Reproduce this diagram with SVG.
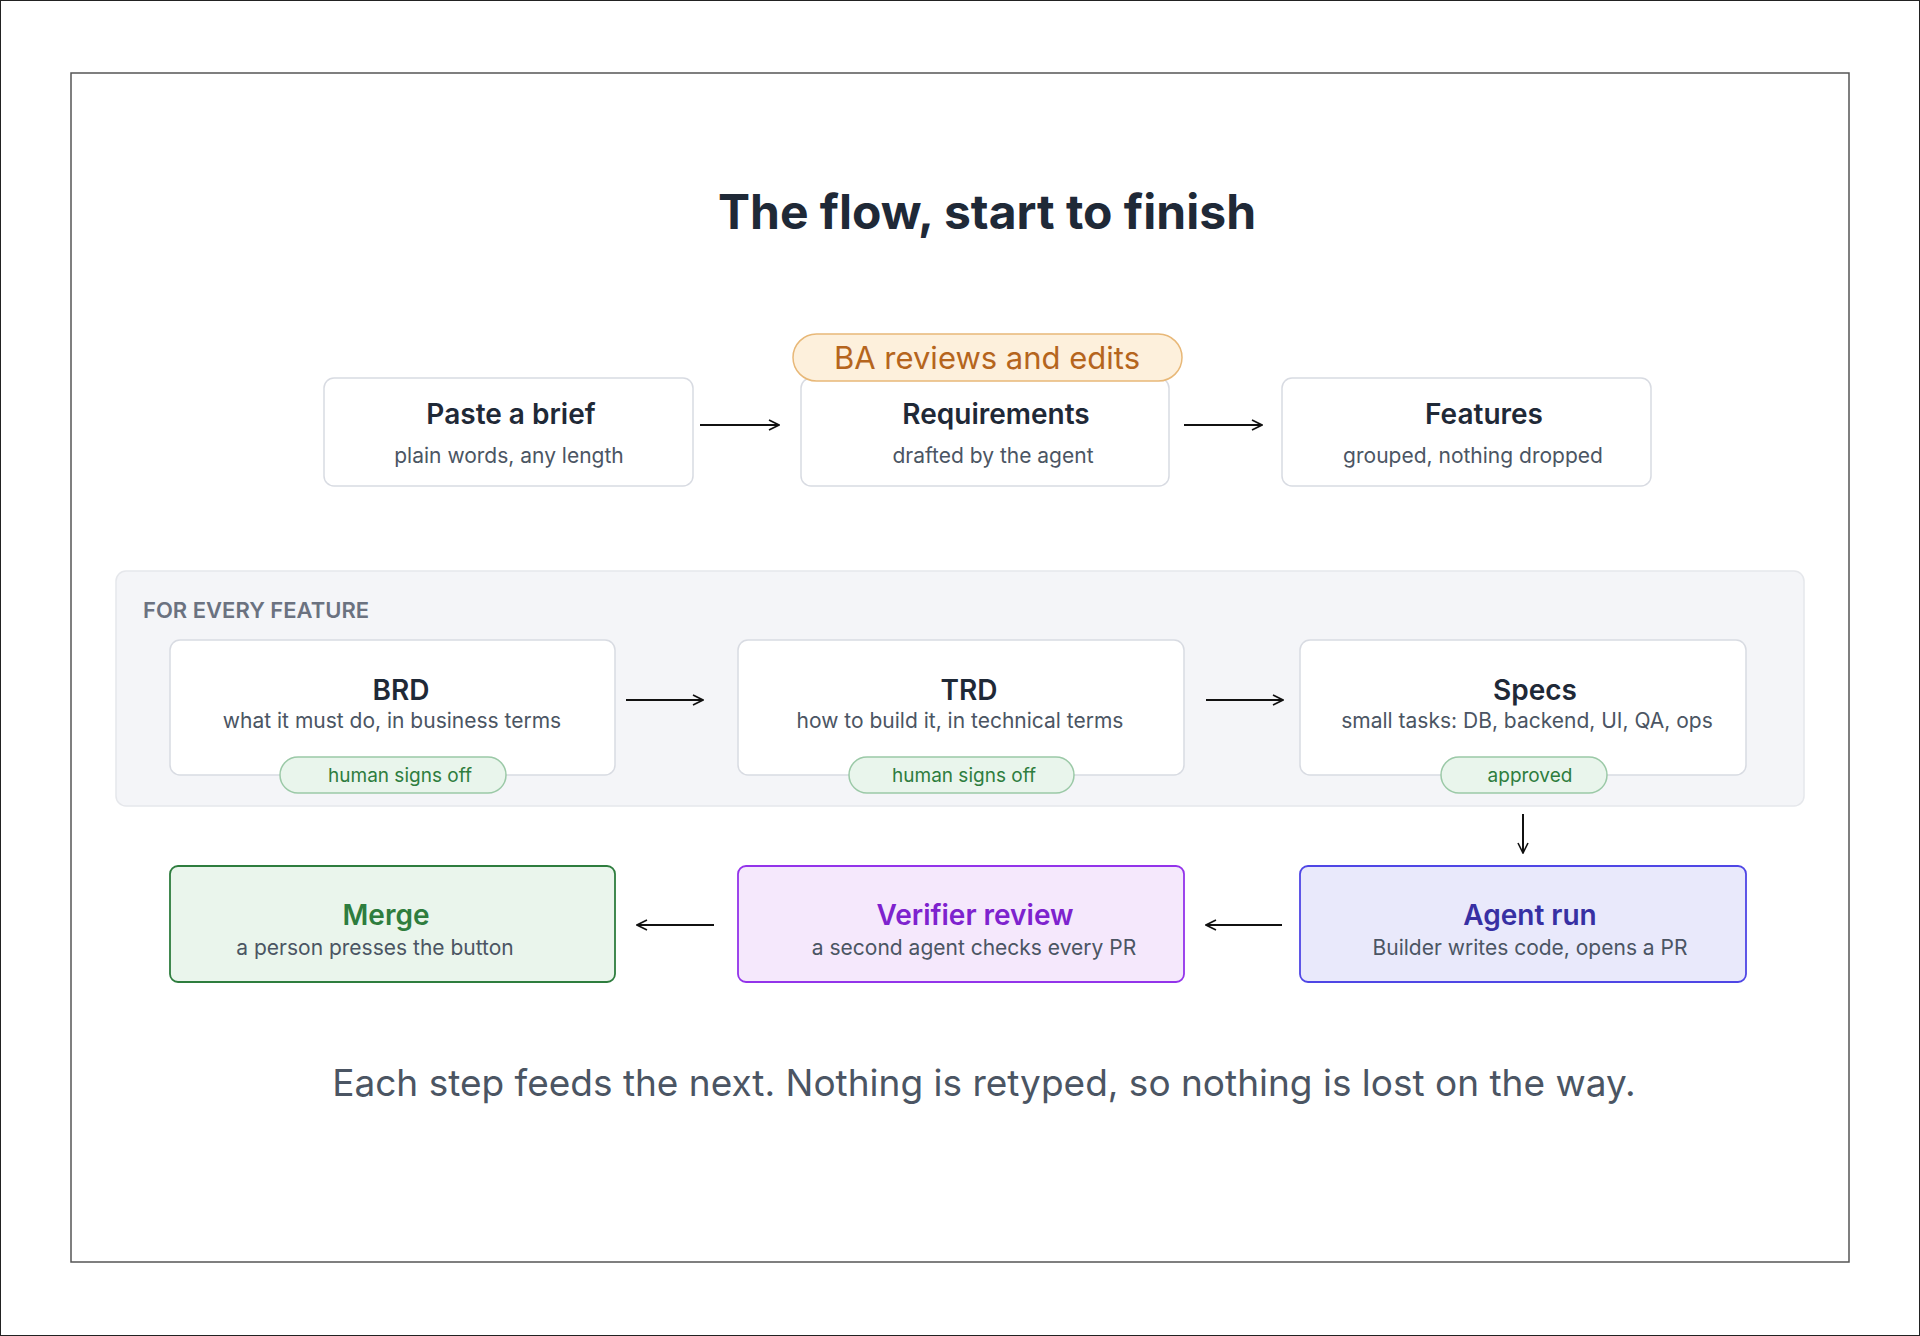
<svg xmlns="http://www.w3.org/2000/svg" width="1920" height="1336" viewBox="0 0 1920 1336">
<defs>
<marker id="ah" viewBox="0 0 12 12" refX="11" refY="6" markerWidth="12" markerHeight="12" markerUnits="userSpaceOnUse" orient="auto"><path d="M1,1 L11,6 L1,11" fill="none" stroke="#111" stroke-width="1.6"/></marker>
<style>
text{font-family:Inter,"Noto Sans",sans-serif;text-anchor:middle}
.box{fill:#fff;stroke:#d8dbe2;stroke-width:1.5}
.t{font-size:28px;font-weight:600;fill:#1f2937}
.s{font-size:21px;fill:#4b5563}
.pill{fill:#e9f5ec;stroke:#9bc9a7;stroke-width:1.5}
.pt{font-size:19px;fill:#2e7d3e}
.c{stroke:#111;stroke-width:2;fill:none;marker-end:url(#ah)}
</style>
</defs>
<rect x="0" y="0" width="1920" height="1336" fill="#fff" stroke="#222" stroke-width="2"/>
<rect x="71" y="73" width="1778" height="1189" fill="#fff" stroke="#555" stroke-width="1.5"/>
<text x="987" y="229" font-size="48" font-weight="700" fill="#1f2937">The flow, start to finish</text>
<g id="panel"><rect x="116" y="571" width="1688" height="235" rx="10" fill="#f4f5f8" stroke="#e5e7eb" stroke-width="1.5"/>
<text x="143" y="618" font-size="22" font-weight="600" fill="#6b7280" style="text-anchor:start">FOR EVERY FEATURE</text></g>
<g id="paste"><rect class="box" x="324" y="378" width="369" height="108" rx="10"/><text class="t" x="511" y="424">Paste a brief</text><text class="s" x="509" y="463">plain words, any length</text></g>
<g id="requirements"><rect class="box" x="801" y="378" width="368" height="108" rx="10"/><text class="t" x="996" y="424">Requirements</text><text class="s" x="993" y="463">drafted by the agent</text></g>
<g id="ba"><rect x="793" y="334" width="389" height="47" rx="23.5" fill="#fdf0dc" stroke="#e8b878" stroke-width="1.5"/><text x="987" y="369" font-size="31" fill="#b5651d">BA reviews and edits</text></g>
<g id="features"><rect class="box" x="1282" y="378" width="369" height="108" rx="10"/><text class="t" x="1484" y="424">Features</text><text class="s" x="1473" y="463">grouped, nothing dropped</text></g>
<g id="brd"><rect class="box" x="170" y="640" width="445" height="135" rx="10"/><text class="t" x="401" y="700">BRD</text><text class="s" x="392" y="728">what it must do, in business terms</text>
<rect class="pill" x="280" y="757" width="226" height="36" rx="18"/><text class="pt" x="400" y="782">human signs off</text></g>
<g id="trd"><rect class="box" x="738" y="640" width="446" height="135" rx="10"/><text class="t" x="969" y="700">TRD</text><text class="s" x="960" y="728">how to build it, in technical terms</text>
<rect class="pill" x="849" y="757" width="225" height="36" rx="18"/><text class="pt" x="964" y="782">human signs off</text></g>
<g id="specs"><rect class="box" x="1300" y="640" width="446" height="135" rx="10"/><text class="t" x="1535" y="700">Specs</text><text class="s" x="1527" y="728">small tasks: DB, backend, UI, QA, ops</text>
<rect class="pill" x="1441" y="757" width="166" height="36" rx="18"/><text class="pt" x="1530" y="782">approved</text></g>
<g id="merge"><rect x="170" y="866" width="445" height="116" rx="8" fill="#eaf5ec" stroke="#2e7d3e" stroke-width="1.8"/><text class="t" x="386" y="925" style="fill:#2e7d3e">Merge</text><text class="s" x="375" y="955">a person presses the button</text></g>
<g id="verifier"><rect x="738" y="866" width="446" height="116" rx="8" fill="#f5e8fc" stroke="#9333ea" stroke-width="1.8"/><text class="t" x="975" y="925" style="fill:#7e22ce">Verifier review</text><text class="s" x="974" y="955">a second agent checks every PR</text></g>
<g id="agent"><rect x="1300" y="866" width="446" height="116" rx="8" fill="#e9e9fb" stroke="#4f46e5" stroke-width="1.8"/><text class="t" x="1530" y="925" style="fill:#3730a3">Agent run</text><text class="s" x="1530" y="955">Builder writes code, opens a PR</text></g>
<g id="connectors">
<line class="c" x1="700" y1="425" x2="779" y2="425"/>
<line class="c" x1="1184" y1="425" x2="1262" y2="425"/>
<line class="c" x1="626" y1="700" x2="703" y2="700"/>
<line class="c" x1="1206" y1="700" x2="1283" y2="700"/>
<line class="c" x1="1523" y1="814" x2="1523" y2="853"/>
<line class="c" x1="1282" y1="925" x2="1206" y2="925"/>
<line class="c" x1="714" y1="925" x2="637" y2="925"/>
</g>
<text x="984" y="1096" font-size="37" fill="#4b5563">Each step feeds the next. Nothing is retyped, so nothing is lost on the way.</text>
</svg>
